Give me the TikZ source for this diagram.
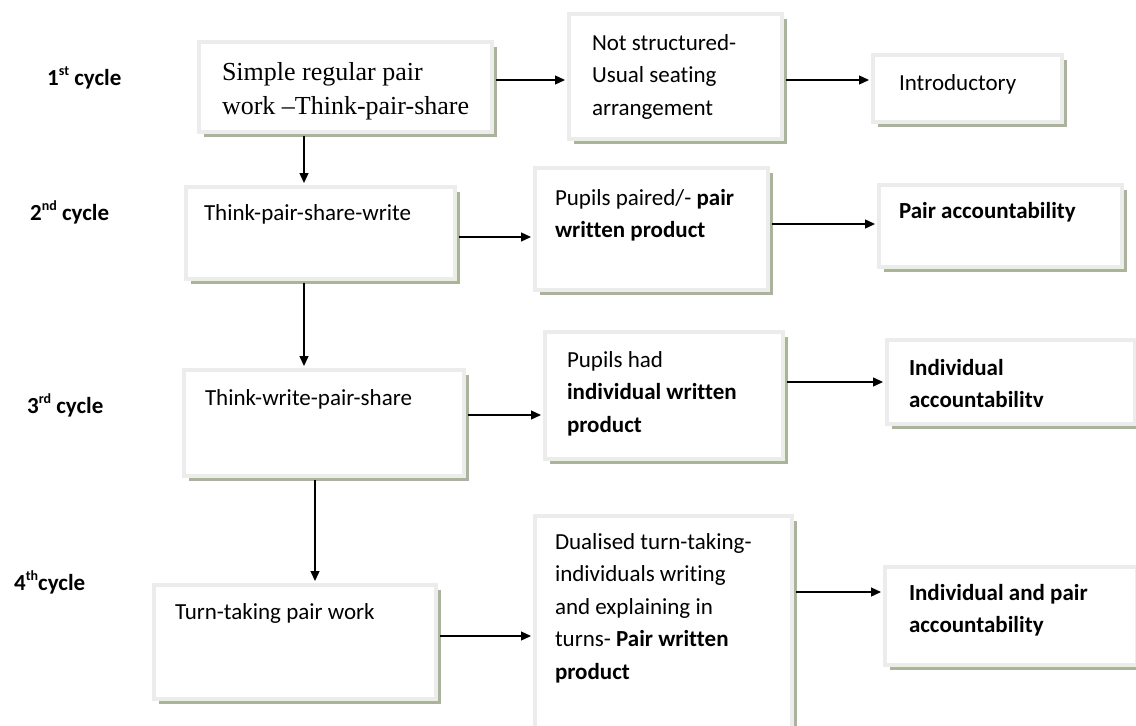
\documentclass[tikz,border=0pt]{standalone}
\usepackage{fontspec}
\setmainfont{Carlito}[Ligatures={TeX,NoCommon,NoContextual}]
\newfontfamily\serifA{Liberation Serif}
\usetikzlibrary{arrows.meta,shadows}
\definecolor{bordercol}{RGB}{236,236,236}
\definecolor{shadowcol}{RGB}{170,180,152}
\newcommand\bxt[5]{\parbox[t][#2][t]{#1}{\raggedright\leftskip=#3\relax\parindent=0pt\rule{0pt}{#4}#5}}
\newcommand\sups[1]{\raisebox{0.4em}{\fontsize{14}{14}\selectfont #1}}
\begin{document}
\begin{tikzpicture}[x=1pt,y=-1pt,
  bx/.style={draw=bordercol, line width=4pt, fill=white, inner sep=0pt, anchor=north west,
    drop shadow={shadow xshift=4.5pt, shadow yshift=-4.5pt, fill=shadowcol, opacity=1},
    font=\fontsize{23}{32.5}\selectfont},
  lab/.style={anchor=base west, inner sep=0pt, font=\bfseries\fontsize{23}{26}\selectfont},
  arr/.style={-{Triangle[length=10pt,width=9pt]}, line width=1.3pt, shorten <=2pt, shorten >=2pt}]
\useasboundingbox (0,0) rectangle (1136,726);
\clip (0,0) rectangle (1136,726);
% labels
\node[lab] (l1) at (47,85) {1\sups{st} cycle};
\node[lab] (l2) at (30,220) {2\sups{nd} cycle};
\node[lab] (l3) at (27,413) {3\sups{rd} cycle};
\node[lab] (l4) at (14,590) {4\sups{th}cycle};
% boxes
\node[bx, font=\serifA\fontsize{26}{34}\selectfont] (A) at (197,40) {\bxt{293pt}{90pt}{23pt}{38pt}{Simple regular pair\\work –Think-pair-share}};
\node[bx] (B) at (567,12) {\bxt{213pt}{125pt}{23pt}{36pt}{Not structured-\\Usual seating\\arrangement}};
\node[bx] (C) at (871,53) {\bxt{189pt}{67pt}{26pt}{35pt}{Introductory}};
\node[bx] (D) at (184,185) {\bxt{269pt}{92pt}{18pt}{33pt}{Think-pair-share-write}};
\node[bx] (E) at (533,166) {\bxt{233pt}{122pt}{20pt}{37pt}{Pupils paired/- \textbf{pair}\\\textbf{written product}}};
\node[bx] (F) at (877,183) {\bxt{243pt}{82pt}{20pt}{33pt}{\textbf{Pair accountability}}};
\node[bx] (G) at (182,368) {\bxt{280pt}{106pt}{21pt}{35pt}{Think-write-pair-share}};
\node[bx] (H) at (543,330) {\bxt{238pt}{127pt}{22pt}{35pt}{Pupils had\\\textbf{individual written}\\\textbf{product}}};
\node[bx] (I) at (885,338) {\bxt{248pt}{84pt}{22pt}{35pt}{\textbf{Individual}\\\textbf{accountabilitv}}};
\node[bx] (J) at (152,583) {\bxt{282pt}{114pt}{21pt}{34pt}{Turn-taking pair work}};
\node[bx] (K) at (533,514) {\bxt{257pt}{220pt}{20pt}{33pt}{Dualised turn-taking-\\individuals writing\\and explaining in\\turns- \textbf{Pair written}\\\textbf{product}}};
\node[bx] (L) at (883,565) {\bxt{252pt}{98pt}{24pt}{33pt}{\textbf{Individual and pair}\\\textbf{accountability}}};
% connector anchors
\coordinate (ab) at ([yshift=7pt]A.east);
\coordinate (bc) at ([yshift=-3.5pt]B.east);
\coordinate (de) at ([yshift=-4pt]D.east);
\coordinate (ef) at ([yshift=5pt]E.east);
\coordinate (gh) at ([yshift=8pt]G.east);
\coordinate (hi) at ([yshift=13.5pt]H.east);
\coordinate (jk) at ([yshift=6pt]J.east);
\coordinate (kl) at ([yshift=34pt]K.east);
\coordinate (ad) at ([xshift=-41.5pt]A.south);
\coordinate (dg) at ([xshift=-16.5pt]D.south);
\coordinate (gj) at ([xshift=-9pt]G.south);
% connectors
\draw[arr] (ab) -- (ab -| B.west);
\draw[arr] (bc) -- (bc -| C.west);
\draw[arr] (de) -- (de -| E.west);
\draw[arr] (ef) -- (ef -| F.west);
\draw[arr] (gh) -- (gh -| H.west);
\draw[arr] (hi) -- (hi -| I.west);
\draw[arr] (jk) -- (jk -| K.west);
\draw[arr] (kl) -- (kl -| L.west);
\draw[arr] (ad) -- (ad |- D.north);
\draw[arr] (dg) -- (dg |- G.north);
\draw[arr] (gj) -- (gj |- J.north);
\end{tikzpicture}
\end{document}
